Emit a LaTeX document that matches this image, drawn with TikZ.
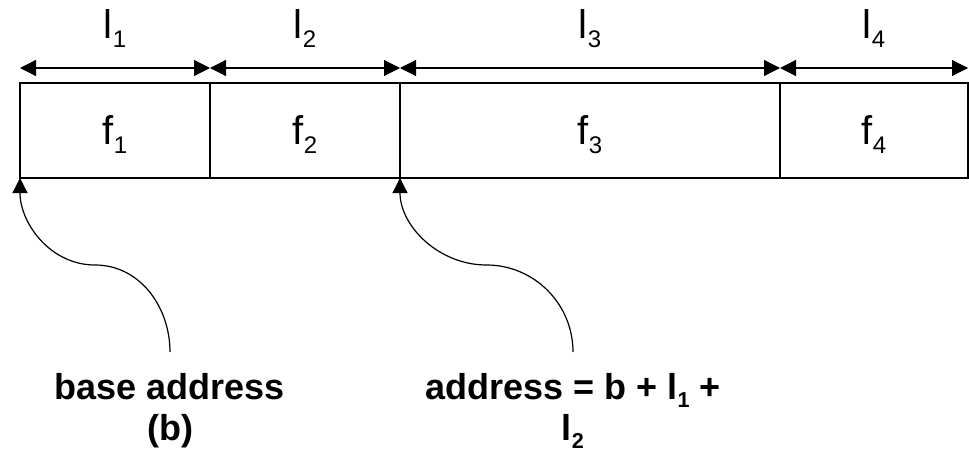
\documentclass[tikz,border=0pt]{standalone}
\usepackage{fontspec}
\setmainfont{Liberation Sans}
\usepackage{graphicx}
\usetikzlibrary{arrows.meta, positioning, calc}
% lowered index after a letter
\newcommand{\ix}[1]{\raisebox{-0.22em}{\scalebox{0.6}{#1}}}

\begin{document}
\begin{tikzpicture}[x=1pt, y=-1pt,
		cell/.style={draw, line width=1.2pt, minimum height=95pt, inner sep=0pt, outer sep=0pt,
			text depth=0pt, font=\fontsize{40}{48}\selectfont},
		span/.style={{Triangle[length=16pt,width=16pt]}-{Triangle[length=16pt,width=16pt]}, line width=1.2pt},
		lenlabel/.style={midway, anchor=base, yshift=29pt, font=\fontsize{40}{48}\selectfont},
		pointer/.style={-{Triangle[length=15pt,width=15pt]}, line width=1.2pt},
		note/.style={font=\fontsize{36}{41}\selectfont\bfseries, align=center, inner sep=0pt, outer sep=0pt}]
		
		\useasboundingbox (0,0) rectangle (969,452);
		
		% The record fields
		\node[cell, minimum width=190pt, anchor=north west] (f1) at (20,83) {f\ix{1}};
		\node[cell, minimum width=190pt, right=0pt of f1] (f2) {f\ix{2}};
		\node[cell, minimum width=380pt, right=0pt of f2] (f3) {f\ix{3}};
		\node[cell, minimum width=188pt, right=0pt of f3] (f4) {f\ix{4}};
		
		% Field lengths
		\foreach \i in {1,...,4}
		\draw[span] ($(f\i.north west)+(0,-15)$) -- ($(f\i.north east)+(0,-15)$)
		node[lenlabel] {l\ix{\i}};
		
		% Addresses
		\coordinate (bstart) at (170,352);
		\coordinate (astart) at (573,352);
		\node[note, below=21pt of bstart] (base) {base address\\(b)};
		\node[note, below=21pt of astart] (addr) {address = b + l\ix{1} +\\l\ix{2}};
		
		\draw[pointer] (bstart) to[out=90, in=0] ($(bstart)!0.5!(f1.south west)$)
		to[out=180, in=-90] (f1.south west);
		\draw[pointer] (astart) to[out=90, in=0] ($(astart)!0.5!(f2.south east)$)
		to[out=180, in=-90] (f2.south east);
		
	\end{tikzpicture}
\end{document}
